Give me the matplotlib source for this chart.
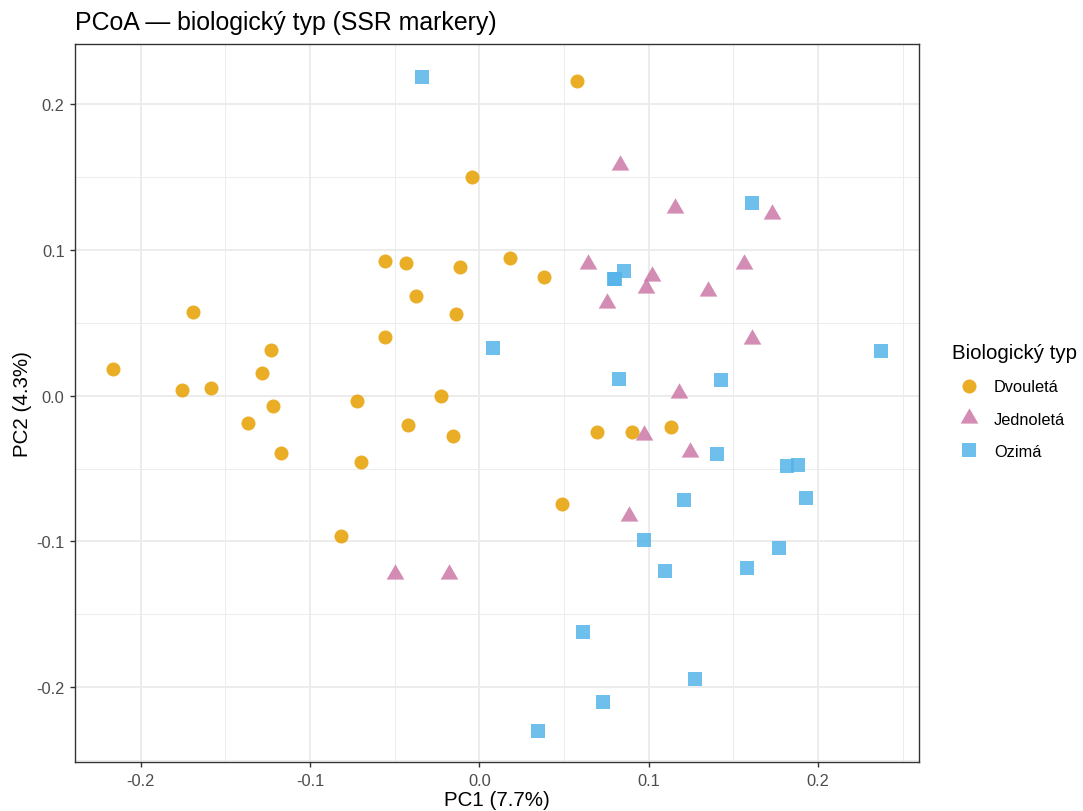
import matplotlib
matplotlib.use('Agg')
import matplotlib.pyplot as plt
from matplotlib.ticker import MultipleLocator, FormatStrFormatter

plt.rcParams['font.family'] = ['Liberation Sans', 'DejaVu Sans']
plt.rcParams['axes.unicode_minus'] = False

# PCoA souřadnice
dvou_pc1 = [-0.0041, -0.0555, -0.0431, -0.0112, -0.0374, -0.0138, -0.0555, -0.1692,
            -0.2162, -0.1228, -0.1281, -0.1753, -0.1586, -0.1216, -0.0724, -0.0226,
            -0.1365, -0.0423, -0.0157, -0.1169, -0.0697, -0.0816, 0.0579, 0.0183,
            0.0380, 0.0693, 0.0900, 0.1130, 0.0488]
dvou_pc2 = [0.1499, 0.0924, 0.0913, 0.0881, 0.0686, 0.0559, 0.0401, 0.0572,
            0.0185, 0.0316, 0.0156, 0.0041, 0.0055, -0.0069, -0.0034, 0.0000,
            -0.0187, -0.0199, -0.0275, -0.0396, -0.0453, -0.0963, 0.2158, 0.0945,
            0.0813, -0.0251, -0.0247, -0.0215, -0.0741]

jedn_pc1 = [0.0831, 0.1157, 0.1728, 0.0642, 0.1018, 0.0984, 0.0756, 0.1563,
            0.1348, 0.1608, 0.1179, 0.0974, 0.1244, 0.0882, -0.0496, -0.0181]
jedn_pc2 = [0.1587, 0.1290, 0.1248, 0.0904, 0.0819, 0.0738, 0.0634, 0.0904,
            0.0716, 0.0388, 0.0021, -0.0268, -0.0383, -0.0825, -0.1224, -0.1224]

ozim_pc1 = [-0.0340, 0.0079, 0.1608, 0.0852, 0.0797, 0.0800, 0.2371, 0.0825,
            0.1425, 0.1405, 0.1815, 0.1880, 0.1208, 0.1927, 0.0974, 0.1098,
            0.1771, 0.1578, 0.0610, 0.1275, 0.0728, 0.0345]
ozim_pc2 = [0.2189, 0.0327, 0.1325, 0.0858, 0.0801, 0.0799, 0.0309, 0.0117,
            0.0108, -0.0398, -0.0483, -0.0476, -0.0716, -0.0704, -0.0990, -0.1203,
            -0.1043, -0.1180, -0.1620, -0.1942, -0.2102, -0.2301]

skupiny = ['Dvouletá', 'Jednoletá', 'Ozimá']
barvy = ['#E69F00', '#CC79A7', '#56B4E9']

tri = [(0, 1), (-0.866, -0.5), (0.866, -0.5), (0, 1)]

fig = plt.figure(figsize=(10.83, 8.12), dpi=100)
ax = fig.add_axes([0.06925, 0.0600, 0.7791, 0.8842])

h1 = ax.scatter(dvou_pc1, dvou_pc2, s=102, marker='o', color=barvy[0], alpha=0.85, linewidths=0, zorder=3)
h2 = ax.scatter(jedn_pc1, jedn_pc2, s=216, marker=tri, color=barvy[1], alpha=0.85, linewidths=0, zorder=3)
h3 = ax.scatter(ozim_pc1, ozim_pc2, s=92, marker='s', color=barvy[2], alpha=0.85, linewidths=0, zorder=3)

ax.set_xlim(-0.2387, 0.2594)
ax.set_ylim(-0.2516, 0.2412)

ax.xaxis.set_major_locator(MultipleLocator(0.1))
ax.yaxis.set_major_locator(MultipleLocator(0.1))
ax.xaxis.set_minor_locator(MultipleLocator(0.05))
ax.yaxis.set_minor_locator(MultipleLocator(0.05))
ax.xaxis.set_major_formatter(FormatStrFormatter('%.1f'))
ax.yaxis.set_major_formatter(FormatStrFormatter('%.1f'))

ax.grid(True, which='major', color='#EBEBEB', linewidth=1.36, zorder=0)
ax.grid(True, which='minor', color='#EBEBEB', linewidth=0.68, zorder=0)
ax.set_axisbelow(True)
ax.tick_params(which='minor', length=0)
ax.tick_params(which='major', length=3.5, width=1.0, color='#333333',
               labelsize=11.8, labelcolor='#4D4D4D', pad=4)
for sp in ax.spines.values():
    sp.set_color('#333333')
    sp.set_linewidth(1.0)

ax.set_xlabel('PC1 (7.7%)', fontsize=14.8, labelpad=1.5)
ax.set_ylabel('PC2 (4.3%)', fontsize=14.8, labelpad=3)

fig.text(75 / 1083, 1 - 30 / 812, 'PCoA — biologický typ (SSR markery)',
         fontsize=17.9, ha='left', va='baseline')

leg = fig.legend([h1, h2, h3], skupiny, loc='upper left',
                 bbox_to_anchor=(944 / 1083, 1 - 336 / 812),
                 frameon=False, title='Biologický typ', title_fontsize=14.8,
                 fontsize=11.8, alignment='left', borderpad=0,
                 labelspacing=1.05, handlelength=2.0, handletextpad=0.55,
                 scatterpoints=1, scatteryoffsets=[0.5])

fig.savefig('out.png', dpi=100)
